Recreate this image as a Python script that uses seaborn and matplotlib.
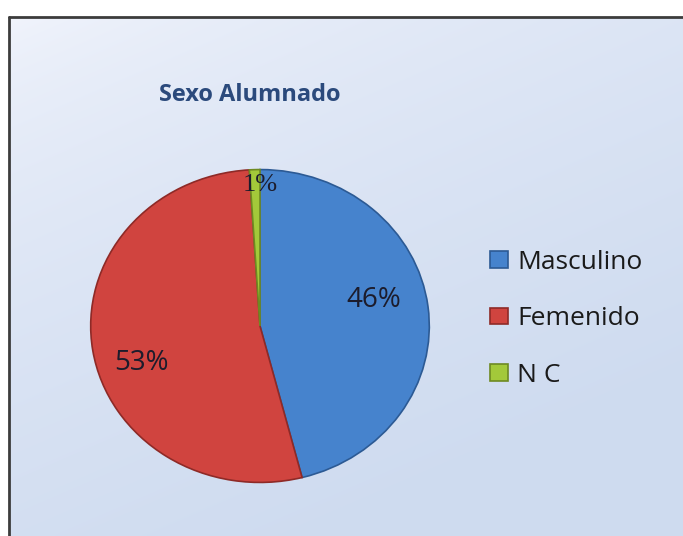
import numpy as np
import matplotlib
matplotlib.use('Agg')
import matplotlib.pyplot as plt
import seaborn as sns
from matplotlib.patches import Rectangle

# Datos del grafico
categorias = ['Masculino', 'Femenido', 'N C']
porcentajes = [46, 53, 1]
colores = ['#4683CD', '#D0443F', '#A3C93A']
bordes = ['#2C5A94', '#8E2A27', '#6E8A22']
titulo = 'Sexo Alumnado'

sns.set_theme(style='white')
plt.rcParams['font.family'] = ['Open Sans', 'DejaVu Sans']

W, H = 683, 536
fig = plt.figure(figsize=(W / 100, H / 100), dpi=100)

# fondo con degradado (estilo Excel)
bg = fig.add_axes([0, 0, 1, 1])
bg.set_xlim(0, W)
bg.set_ylim(H, 0)
bg.axis('off')
bg.add_patch(Rectangle((0, 0), W, H, color='white', zorder=0))
gx = np.linspace(0, 1, 200)
gy = np.linspace(0, 1, 200)
GX, GY = np.meshgrid(gx, gy)
t = np.clip(0.8 * GY + 0.45 * GX, 0, 1) ** 0.6
top = np.array([0.95, 0.96, 0.99])
bot = np.array([0.81, 0.86, 0.94])
img = top[None, None, :] * (1 - t[..., None]) + bot[None, None, :] * t[..., None]
bg.imshow(img, extent=(9, W, H, 17), aspect='auto', zorder=1, interpolation='bilinear')
bg.plot([9, 9], [17, H], color='#3c3c3c', lw=2, zorder=2)
bg.plot([9, W], [17, 17], color='#3c3c3c', lw=2, zorder=2)

fig.text(250 / W, 1 - 95 / H, titulo, ha='center', va='center', fontsize=17,
         fontweight='bold', color='#2B4A7C')

# pastel
ax = fig.add_axes([89 / W, 1 - 484 / H, 342 / W, 316 / H])
ax.patch.set_alpha(0)
wedges, textos, autot = ax.pie(porcentajes, colors=colores, startangle=90,
                               counterclock=False, autopct='%1.0f%%',
                               pctdistance=0.7,
                               wedgeprops=dict(linewidth=1.2),
                               textprops=dict(fontsize=20, color='#1c1c2c'))
for w, b in zip(wedges, bordes):
    w.set_edgecolor(b)
ax.set_aspect('auto')
ax.set_xlim(-1.01, 1.01)
ax.set_ylim(-1.01, 1.01)

# posicion de las etiquetas (como en el original)
pos_etiquetas = [(0.67, 0.165), (-0.70, -0.235), (0.0, 0.90)]
for txt, p in zip(autot, pos_etiquetas):
    txt.set_position(p)
autot[2].set_family(['Liberation Serif', 'DejaVu Serif'])
autot[2].set_fontsize(19)

leg = fig.legend(wedges, categorias, loc='upper left',
                 bbox_to_anchor=(466 / W, 1 - 226 / H), frameon=False,
                 fontsize=19, labelspacing=1.2, handlelength=0.7,
                 handleheight=0.6, handletextpad=0.35)
for t_ in leg.get_texts():
    t_.set_color('#1a1a1a')

fig.savefig('out.png', dpi=100)
